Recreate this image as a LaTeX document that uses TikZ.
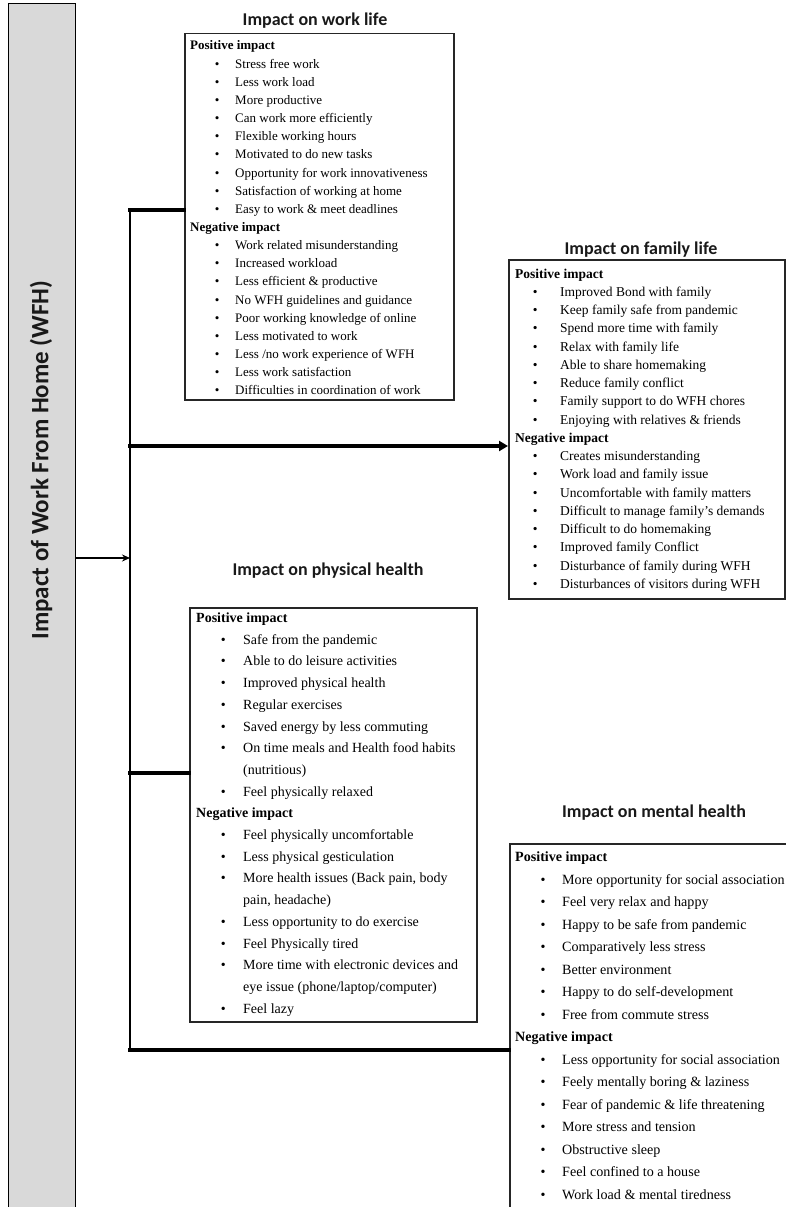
\documentclass[tikz,border=0pt]{standalone}
\usepackage{fontspec}
\setmainfont{Liberation Serif}
\newfontfamily\calibrifont{Carlito}
\usetikzlibrary{arrows.meta}

\begin{document}
\begin{tikzpicture}[x=1pt,y=-1pt,
  frame/.style={draw=black!85, line width=1.5pt, fill=white, inner sep=0pt, anchor=north west},
  ttl/.style={font=\calibrifont\bfseries\fontsize{18}{20}\selectfont, anchor=base, inner sep=0pt, text=black!90},
  hd/.style={anchor=base west, inner sep=0pt, font=\bfseries, xshift=\hx},
  it/.style={anchor=base west, inner sep=0pt, xshift=\bx,
    execute at begin node={\makebox[0pt]{\textbullet}\hspace{\gap}}},
  ct/.style={anchor=base west, inner sep=0pt, xshift=\tx},
  spine/.style={line width=2pt},
  link/.style={line width=3.2pt, line cap=rect},
]
\useasboundingbox (0,0) rectangle (786,1207);
\clip (0,0) rectangle (786,1207);

% main bar on the left
\node[draw=black, line width=1.4pt, fill=black!15, minimum width=67pt,
      minimum height=1230pt, anchor=north west, inner sep=0pt] (bar) at (8,3) {};
\node[rotate=90, inner sep=0pt, text=black!90, font=\calibrifont\bfseries\fontsize{25}{28}\selectfont]
  (bartext) at (41,460) {Impact of Work From Home (WFH)};

% section titles
\node[ttl] (t-work)   at (315,26)  {Impact on work life};
\node[ttl] (t-family) at (641,254) {Impact on family life};
\node[ttl] (t-phys)   at (328,575) {Impact on physical health};
\node[ttl] (t-mental) at (654,817) {Impact on mental health};

% frames
\node[frame, minimum width=269pt, minimum height=366pt] (work)   at (184,33)  {};
\node[frame, minimum width=276pt, minimum height=339pt] (family) at (508,259) {};
\node[frame, minimum width=287pt, minimum height=414pt] (phys)   at (189,607) {};
\node[frame, minimum width=300pt, minimum height=420pt] (mental) at (509,843) {};

% work life list
\begin{scope}
\fontsize{13}{15}\selectfont
\def\hx{190pt}\def\bx{217pt}\def\tx{235pt}\def\gap{18pt}
\foreach \k/\t [count=\i from 0] in {
  hd/Positive impact,
  it/Stress free work,
  it/Less work load,
  it/More productive,
  it/Can work more efficiently,
  it/Flexible working hours,
  it/Motivated to do new tasks,
  it/Opportunity for work innovativeness,
  it/Satisfaction of working at home,
  it/Easy to work \& meet deadlines,
  hd/Negative impact,
  it/Work related misunderstanding,
  it/Increased workload,
  it/Less efficient \& productive,
  it/No WFH guidelines and guidance,
  it/Poor working knowledge of online,
  it/Less motivated to work,
  it/{Less /no work experience of WFH},
  it/Less work satisfaction,
  it/Difficulties in coordination of work}
  \node[\k] (w\i) at (0,50+18.15*\i) {\t};
\end{scope}

% family life list
\begin{scope}
\fontsize{13.5}{15}\selectfont
\def\hx{515pt}\def\bx{535pt}\def\tx{560pt}\def\gap{25pt}
\foreach \k/\t [count=\i from 0] in {
  hd/Positive impact,
  it/Improved Bond with family,
  it/Keep family safe from pandemic,
  it/Spend more time with family,
  it/Relax with family life,
  it/Able to share homemaking,
  it/Reduce family conflict,
  it/Family support to do WFH chores,
  it/Enjoying with relatives \& friends,
  hd/Negative impact,
  it/Creates misunderstanding,
  it/Work load and family issue,
  it/Uncomfortable with family matters,
  it/Difficult to manage family's demands,
  it/Difficult to do homemaking,
  it/Improved family Conflict,
  it/Disturbance of family during WFH,
  it/Disturbances of visitors during WFH}
  \node[\k] (f\i) at (0,278+18.25*\i) {\t};
\end{scope}

% physical health list
\begin{scope}
\fontsize{14}{16}\selectfont
\def\hx{196pt}\def\bx{223pt}\def\tx{243pt}\def\gap{20pt}
\foreach \k/\t [count=\i from 0] in {
  hd/Positive impact,
  it/Safe from the pandemic,
  it/Able to do leisure activities,
  it/Improved physical health,
  it/Regular exercises,
  it/Saved energy by less commuting,
  it/On time meals and Health food habits,
  ct/(nutritious),
  it/Feel physically relaxed,
  hd/Negative impact,
  it/Feel physically uncomfortable,
  it/Less physical gesticulation,
  it/{More health issues (Back pain, body},
  ct/{pain, headache)},
  it/Less opportunity to do exercise,
  it/Feel Physically tired,
  it/More time with electronic devices and,
  ct/{eye issue (phone/laptop/computer)},
  it/Feel lazy}
  \node[\k] (p\i) at (0,622.5+21.7*\i) {\t};
\end{scope}

% mental health list
\begin{scope}
\fontsize{14.1}{16}\selectfont
\def\hx{515pt}\def\bx{543pt}\def\tx{562pt}\def\gap{19pt}
\foreach \k/\t [count=\i from 0] in {
  hd/Positive impact,
  it/More opportunity for social association,
  it/Feel very relax and happy,
  it/Happy to be safe from pandemic,
  it/Comparatively less stress,
  it/Better environment,
  it/Happy to do self-development,
  it/Free from commute stress,
  hd/Negative impact,
  it/Less opportunity for social association,
  it/Feely mentally boring \& laziness,
  it/Fear of pandemic \& life threatening,
  it/More stress and tension,
  it/Obstructive sleep,
  it/Feel confined to a house,
  it/Work load \& mental tiredness}
  \node[\k] (m\i) at (0,861.5+22.5*\i) {\t};
\end{scope}

% connectors
\coordinate (jw) at (130,210);
\coordinate (jf) at (130,446);
\coordinate (ja) at (130,558);
\coordinate (jp) at (130,773);
\coordinate (jm) at (130,1050);
\draw[spine] (jw) -- (jm);
\draw[link] (jw) -- (jw -| work.west);
\draw[link, -{Triangle[length=9pt,width=10pt]}] (jf) -- (jf -| family.west);
\draw[link] (jp) -- (jp -| phys.west);
\draw[link] (jm) -- (jm -| mental.west);
\draw[line width=1.3pt, -{Stealth[length=8pt,width=7pt]}] (ja -| bar.east) -- (ja);
\end{tikzpicture}
\end{document}
